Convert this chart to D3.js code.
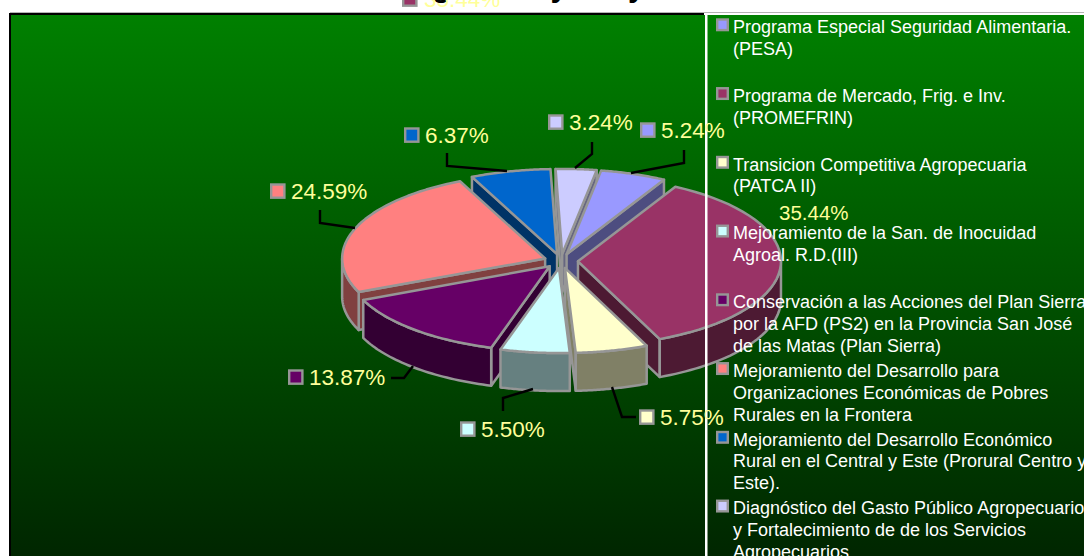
<!DOCTYPE html>
<html>
<head>
<meta charset="utf-8">
<title>Programas y Proyectos</title>
<script src="https://d3js.org/d3.v7.min.js"></script>
<style>
    html, body { margin: 0; padding: 0; background: #fff; overflow: hidden; }
    svg { display: block; }
    text { font-family: "Liberation Sans", Arial, sans-serif; }
</style>
</head>
<body>
<div id="chart"></div>
<script>
// chart values
var shortNames = ["PESA", "PROMEFRIN", "PATCA II", "San. Inocuidad", "Plan Sierra", "Frontera", "Prorural", "Gasto Publico"]
var shares = [5.24, 35.44, 5.75, 5.50, 13.87, 24.59, 6.37, 3.24]
var sliceColors = ["#9999FF", "#993366", "#FFFFCC", "#CCFFFF", "#660066", "#FF8080", "#0066CC", "#CCCCFF"]
var legendLines = [
    ["Programa Especial Seguridad Alimentaria.", "(PESA)"],
    ["Programa de Mercado, Frig. e Inv.", "(PROMEFRIN)"],
    ["Transicion Competitiva Agropecuaria", "(PATCA II)"],
    ["Mejoramiento de la San. de Inocuidad", "Agroal. R.D.(III)"],
    ["Conservación a las Acciones del Plan Sierra", "por la AFD (PS2) en la Provincia San José", "de las Matas (Plan Sierra)"],
    ["Mejoramiento del Desarrollo para", "Organizaciones Económicas de Pobres", "Rurales en la Frontera"],
    ["Mejoramiento del Desarrollo Económico", "Rural en el Central y Este (Prorural Centro y", "Este)."],
    ["Diagnóstico del Gasto Público Agropecuario", "y Fortalecimiento de de los Servicios", "Agropecuarios"]
]

// page layout
var width = 1084, height = 556
var plotLeft = 10, plotTop = 15, dividerX = 706
var cx = 561, cy = 261, rx = 203, ry = 85, depth = 38, explode = 17
var firstAngle = 9.8 * Math.PI / 180
var grey = "#969696"

// where each data label sits: key left, text baseline, leader polyline
var labelSpots = [
    {key: 640, base: 138, leader: [[684,150],[684,163],[631,173]]},
    {key: 402, base: 7, leader: []},
    {key: 639, base: 425, leader: [[636,417],[622,417],[612,387]]},
    {key: 460, base: 437, leader: [[503,411],[503,398],[533,389]]},
    {key: 288, base: 385, leader: [[391,378],[404,378],[413,366]]},
    {key: 270, base: 199, leader: [[320,210],[320,223],[355,228]]},
    {key: 404, base: 143, leader: [[447,153],[447,166],[507,171]]},
    {key: 548, base: 130, leader: [[592,142],[592,154],[575,168]]}
]

var svg = d3.select("#chart").append("svg")
    .attr("width", width)
    .attr("height", height)

var defs = svg.append("defs")
var grad = defs.append("linearGradient")
    .attr("id", "bg")
    .attr("x1", 0).attr("y1", 0).attr("x2", 0).attr("y2", 1)
grad.append("stop").attr("offset", "0%").attr("stop-color", "#008000")
grad.append("stop").attr("offset", "100%").attr("stop-color", "#002600")

// title, pushed off the top of the page like in the source
svg.append("text")
    .attr("x", 380).attr("y", -4)
    .attr("font-size", 31).attr("font-weight", "bold")
    .attr("fill", "#000")
    .text("Programas y Proyectos")

// background + frame
svg.append("rect")
    .attr("x", plotLeft).attr("y", plotTop)
    .attr("width", width - plotLeft).attr("height", height - plotTop)
    .attr("fill", "url(#bg)")
svg.append("rect").attr("x", plotLeft).attr("y", 12).attr("width", width - plotLeft).attr("height", 1).attr("fill", "#b4b4b4")
svg.append("rect").attr("x", plotLeft - 1).attr("y", 13).attr("width", dividerX - plotLeft - 1).attr("height", 2).attr("fill", "#000")
svg.append("rect").attr("x", plotLeft - 1).attr("y", 13).attr("width", 2).attr("height", height).attr("fill", "#000")

// pie layout: angles clockwise from the top
var pie = d3.pie().value(function(d) { return d }).sort(null)
    .startAngle(firstAngle).endAngle(firstAngle + 2 * Math.PI)
var arcs = pie(shares).map(function(a, i) {
    var mid = (a.startAngle + a.endAngle) / 2
    var c = d3.rgb(sliceColors[i])
    return {
        i: i, a0: a.startAngle, a1: a.endAngle, mid: mid,
        ox: cx + explode * Math.sin(mid),
        oy: cy - explode * (ry / rx) * Math.cos(mid),
        color: sliceColors[i],
        side: d3.rgb(c.r / 2, c.g / 2, c.b / 2).formatHex()
    }
})

function rim(s, t, drop) {
    return [s.ox + rx * Math.sin(t), s.oy - ry * Math.cos(t) + (drop || 0)]
}
var line = d3.line()
function arcPoints(s, t0, t1, drop) {
    return d3.range(0, 41).map(function(k) { return rim(s, t0 + (t1 - t0) * k / 40, drop) })
}

// back to front
var ordered = arcs.slice().sort(function(a, b) { return Math.cos(b.mid) - Math.cos(a.mid) })
var pieG = svg.append("g")
ordered.forEach(function(s) {
    var g = pieG.append("g")
        .attr("stroke", grey).attr("stroke-width", 2.5).attr("stroke-linejoin", "round")
    // radial walls, skip the ones that face away
    var walls = []
    if (Math.sin(s.a0) < 0) walls.push(s.a0)
    if (Math.sin(s.a1) > 0) walls.push(s.a1)
    walls.forEach(function(t) {
        var p = rim(s, t), q = rim(s, t, depth)
        g.append("path")
            .attr("d", line([[s.ox, s.oy], p, q, [s.ox, s.oy + depth]]) + "Z")
            .attr("fill", s.side)
    })
    // outer wall, only the part that faces the viewer
    var lo = Math.max(s.a0, Math.PI / 2), hi = Math.min(s.a1, 3 * Math.PI / 2)
    if (hi > lo) {
        g.append("path")
            .attr("d", line(arcPoints(s, lo, hi, 0).concat(arcPoints(s, hi, lo, depth))) + "Z")
            .attr("fill", s.side)
    }
    // top face
    g.append("path")
        .attr("d", line([[s.ox, s.oy]].concat(arcPoints(s, s.a0, s.a1, 0))) + "Z")
        .attr("fill", s.color)
})

// divider of the legend goes over the pie
svg.append("rect").attr("x", dividerX - 1).attr("y", 13).attr("width", 2.5).attr("height", height).attr("fill", "#fff")
svg.append("rect").attr("x", dividerX - 2).attr("y", 13).attr("width", 4).attr("height", 2).attr("fill", "#fff")

// data labels
var labels = svg.append("g")
labelSpots.forEach(function(spot, i) {
    if (spot.leader.length) {
        labels.append("path")
            .attr("d", line(spot.leader))
            .attr("fill", "none").attr("stroke", "#000").attr("stroke-width", 2.4)
    }
    labels.append("rect")
        .attr("x", spot.key + 1.2).attr("y", spot.base - 14.5)
        .attr("width", 13.2).attr("height", 13.2)
        .attr("fill", sliceColors[i]).attr("stroke", grey).attr("stroke-width", 2.4)
    labels.append("text")
        .attr("x", spot.key + 21 + (i == 1 ? 1 : 0)).attr("y", spot.base)
        .attr("font-size", 22.5).attr("fill", "#FFFF99")
        .text(d3.format(".2f")(shares[i]) + "%")
})
// the maroon slice value also repeats without a key, inside the legend area
labels.append("text")
    .attr("x", 779).attr("y", 220)
    .attr("font-size", 20.5).attr("fill", "#FFFF99")
    .text(d3.format(".2f")(shares[1]) + "%")

// legend
var legend = svg.append("g")
legendLines.forEach(function(lines, i) {
    var top = 33 + i * 68.75
    legend.append("rect")
        .attr("x", 717.2).attr("y", top - 13.5)
        .attr("width", 10.6).attr("height", 10.6)
        .attr("fill", sliceColors[i]).attr("stroke", grey).attr("stroke-width", 2.4)
    lines.forEach(function(txt, j) {
        legend.append("text")
            .attr("x", 733).attr("y", top + j * 21.9)
            .attr("font-size", 18).attr("fill", "#fff")
            .text(txt)
    })
})
</script>
</body>
</html>
